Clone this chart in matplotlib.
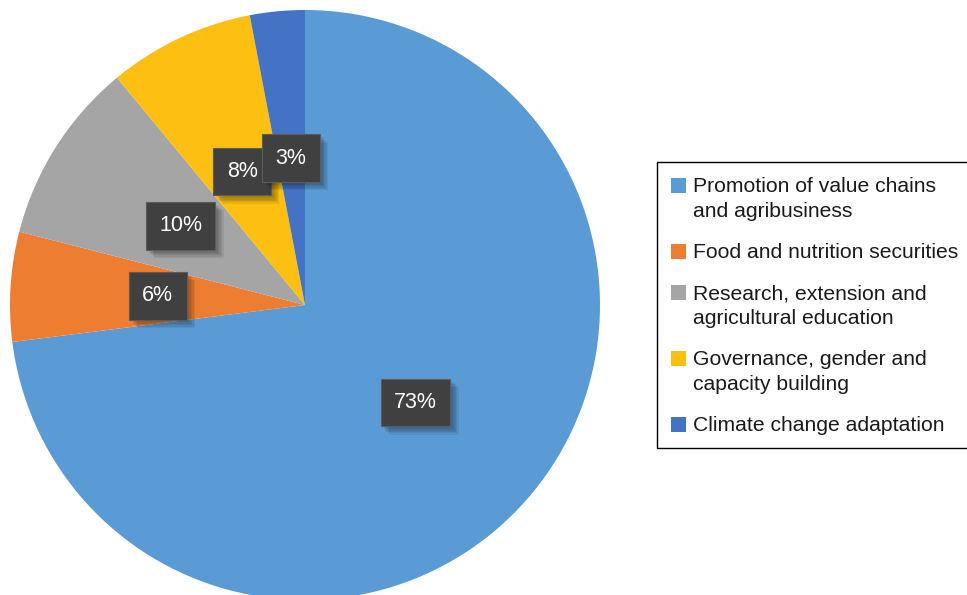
import matplotlib
matplotlib.use('Agg')
import matplotlib.pyplot as plt
import matplotlib.patheffects as pe
from matplotlib.patches import Rectangle

plt.rcParams['font.family'] = ['Liberation Sans', 'DejaVu Sans']

categories = ['Promotion of value chains\nand agribusiness',
              'Food and nutrition securities',
              'Research, extension and\nagricultural education',
              'Governance, gender and\ncapacity building',
              'Climate change adaptation']
shares = [73, 6, 10, 8, 3]
colors = ['#5B9BD5', '#ED7D31', '#A5A5A5', '#FDBF12', '#4472C4']

W, H = 967, 595
fig = plt.figure(figsize=(W / 100, H / 100), dpi=100)
ax = fig.add_axes([0, 0, 1, 1])

# pie drawn in pixel coordinates (y up)
wedges, texts, autotexts = ax.pie(
    shares, colors=colors, startangle=90, counterclock=False,
    center=(305, H - 305), radius=295, autopct='%1.0f%%', pctdistance=0.5,
    wedgeprops=dict(linewidth=0), textprops=dict(color='white', fontsize=15.5))

# soft-ish shadow behind the dark label boxes
shadow = [pe.SimplePatchShadow(offset=(d, -d), shadow_rgbFace='#000000', alpha=0.07)
          for d in (2, 3, 4, 5, 6)]
for t in autotexts:
    t.set_bbox(dict(boxstyle='square,pad=0.62', facecolor='#404040',
                    edgecolor='#5c5c5c', linewidth=0.8))
    t.get_bbox_patch().set_path_effects(shadow + [pe.Normal()])

ax.set_xlim(0, W)
ax.set_ylim(0, H)
ax.set_aspect('auto')
ax.axis('off')

# legend built by hand so the swatch sits on the first line of each label
leg_left, leg_top, leg_bottom = 657, 162, 448
ax.add_patch(Rectangle((leg_left, H - leg_bottom), 400, leg_bottom - leg_top,
                       facecolor='white', edgecolor='black', linewidth=1.0,
                       clip_on=False))
y = 185
for label, c in zip(categories, colors):
    ax.add_patch(Rectangle((671, H - y - 7.5), 15, 15, facecolor=c,
                           edgecolor='none'))
    lines = label.split('\n')
    for i, line in enumerate(lines):
        ax.text(693, H - (y + 25 * i) - 7, line, fontsize=15.2,
                color='#1a1a1a', va='baseline', ha='left')
    y += 25 * (len(lines) - 1) + 41

fig.savefig('out.png', dpi=100)
